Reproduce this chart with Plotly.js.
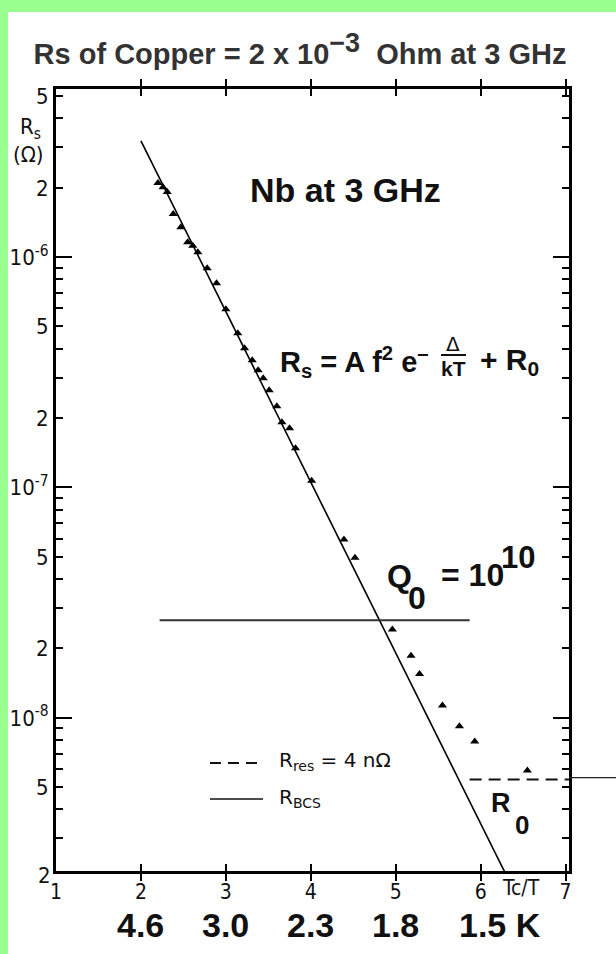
<!DOCTYPE html>
<html>
<head>
<meta charset="utf-8">
<script src="https://cdn.plot.ly/plotly-3.0.1.min.js"></script>
<style>
  html, body { margin: 0; padding: 0; background: #99ff8f; }
  #chart { width: 616px; height: 954px; }
</style>
</head>
<body>
<div id="chart"></div>
<script>
// ---------------- data ----------------
// measured points (x = Tc/T, y = Rs in Ohm)
const measX = [2.20, 2.26, 2.31, 2.38, 2.47, 2.55, 2.61, 2.67, 2.78, 2.89, 3.00, 3.14, 3.22, 3.31, 3.38, 3.44, 3.51, 3.60, 3.66, 3.75, 3.82, 4.01, 4.39, 4.52, 4.96, 5.18, 5.28, 5.55, 5.75, 5.93, 6.55];
const measY = [2.10e-6, 2.01e-6, 1.92e-6, 1.54e-6, 1.35e-6, 1.16e-6, 1.12e-6, 1.05e-6, 8.96e-7, 7.71e-7, 5.94e-7, 4.67e-7, 4.02e-7, 3.57e-7, 3.23e-7, 2.98e-7, 2.64e-7, 2.25e-7, 1.92e-7, 1.81e-7, 1.48e-7, 1.07e-7, 5.94e-8, 4.96e-8, 2.42e-8, 1.86e-8, 1.55e-8, 1.13e-8, 9.2e-9, 7.9e-9, 5.9e-9];

// R_BCS fit line
const bcsX = [2.0, 6.3];
const bcsY = [3.2e-6, 2.08e-9];

// Q0 = 1e10 level
const qX = [2.22, 5.87];
const qY = [2.65e-8, 2.65e-8];

// residual resistance R_res (dashed)
const resX = [5.87, 7.04];
const resY = [5.4e-9, 5.4e-9];
const resExtY = 5.5e-9;

// axes
const xRange = [1, 7.04];
const yRangeLog = [-8.665, -5.270];
const xTickVals = [1, 2, 3, 4, 5, 6, 7];
const xTickText = ['1', '2', '3', '4', '5', '6', '7'];
const tempX = [2, 3, 4, 5, 6];
const tempLabels = ['4.6', '3.0', '2.3', '1.8', '1.5 K'];

// y ticks: every integer multiple inside range, labels at 1, 2, 5
const yTickVals = [], yTickText = [], yDecades = [];
for (let e = -9; e <= -6; e++) {
  for (let m = 1; m <= 9; m++) {
    const v = m * Math.pow(10, e);
    const lv = Math.log10(v);
    if (lv < yRangeLog[0] || lv > yRangeLog[1]) continue;
    yTickVals.push(v);
    if (m === 1) { yTickText.push('10<sup>-' + (-e) + '</sup>'); yDecades.push(v); }
    else if (m === 2 || m === 5) yTickText.push(String(m));
    else yTickText.push('');
  }
}

// ---------------- layout helpers (pixel -> paper, for text placement) ----------------
const M = { l: 56, r: 47, t: 89, b: 83 };
const W = 616, H = 954;
const PW = W - M.l - M.r, PH = H - M.t - M.b;
const PX = p => (p - M.l) / PW;
const PY = p => (H - M.b - p) / PH;

const narrow = 'Liberation Sans Narrow, DejaVu Sans Condensed, Liberation Sans, sans-serif';
const bold = 'Liberation Sans, Arial, sans-serif';
const legendFont = 'DejaVu Sans, sans-serif';

const traces = [
  { x: bcsX, y: bcsY, mode: 'lines', line: { color: '#000', width: 1.6 }, hoverinfo: 'skip' },
  { x: qX, y: qY, mode: 'lines', line: { color: '#333', width: 2 }, hoverinfo: 'skip' },
  { x: resX, y: resY, mode: 'lines', line: { color: '#111', width: 2, dash: '12px,7px' }, hoverinfo: 'skip' },
  { x: measX, y: measY, mode: 'markers', marker: { symbol: 'triangle-up', size: 8, color: '#000' }, hoverinfo: 'skip' },
  { x: [], y: [], yaxis: 'y2', mode: 'markers', hoverinfo: 'skip' }
];

function txt(text, x, y, size, family, opts) {
  return Object.assign({
    text: text, xref: 'paper', yref: 'paper', x: x, y: y,
    xanchor: 'left', yanchor: 'middle', showarrow: false,
    font: { size: size, family: family, color: '#111' }
  }, opts || {});
}

const annotations = [
  txt('R<sub>s</sub>', PX(30), PY(128), 22, narrow, { xanchor: 'center' }),
  txt('(Ω)', PX(28), PY(154), 22, narrow, { xanchor: 'center' }),
  txt('2', PX(53), PY(875), 22, narrow, { xanchor: 'right' }),
  txt('<b>Nb at 3 GHz</b>', PX(345), PY(190), 34, bold, { xanchor: 'center' }),
  // formula
  txt('<b>R<sub>s</sub> = A f<sup>2</sup> e<sup>–</sup></b>', PX(278), PY(362), 29, bold),
  txt('Δ', PX(453), PY(344), 20, legendFont, { xanchor: 'center' }),
  txt('<b>kT</b>', PX(453), PY(368), 21, bold, { xanchor: 'center' }),
  txt('<b>+ R<sub>0</sub></b>', PX(478), PY(362), 30, bold),
  // Q0
  txt('<b>Q</b>', PX(385), PY(576), 32, bold),
  txt('<b>0</b>', PX(406), PY(598), 32, bold),
  txt('<b>= 10</b>', PX(439), PY(575), 32, bold),
  txt('<b>10</b>', PX(499), PY(557), 31, bold),
  // R0
  txt('<b>R</b>', PX(489), PY(803), 27, bold),
  txt('<b>0</b>', PX(513), PY(825), 26, bold),
  // legend
  txt('R<sub>res</sub> = 4 nΩ', PX(277), PY(761), 20, legendFont),
  txt('R<sub>BCS</sub>', PX(277), PY(798), 20, legendFont),
  // Tc/T axis label
  { text: 'Tc/T', xref: 'x', yref: 'paper', x: 6.48, y: PY(888), xanchor: 'center', yanchor: 'middle',
    showarrow: false, font: { size: 21, family: narrow, color: '#111' } }
];
// temperature labels under the x axis
tempX.forEach((xv, i) => {
  const last = i === tempLabels.length - 1;
  annotations.push({
    text: '<b>' + tempLabels[i] + '</b>', xref: 'x', yref: 'paper', x: xv, y: PY(925),
    xanchor: last ? 'left' : 'center', xshift: last ? -24 : 0, yanchor: 'middle', showarrow: false,
    font: { size: 34, family: bold, color: '#111' }
  });
});

const shapes = [
  // white page area on the green background
  { type: 'rect', xref: 'paper', yref: 'paper', x0: PX(8), x1: PX(640), y0: PY(980), y1: PY(12),
    fillcolor: '#ffffff', line: { width: 0 }, layer: 'below' },
  // legend samples
  { type: 'line', xref: 'paper', yref: 'paper', x0: PX(210), x1: PX(263), y0: PY(763), y1: PY(763),
    line: { color: '#111', width: 2, dash: '11px,7px' } },
  { type: 'line', xref: 'paper', yref: 'paper', x0: PX(210), x1: PX(263), y0: PY(799), y1: PY(799),
    line: { color: '#111', width: 1.6 } },
  // fraction bar in the formula
  { type: 'line', xref: 'paper', yref: 'paper', x0: PX(441), x1: PX(466), y0: PY(355), y1: PY(355),
    line: { color: '#111', width: 2 } },
  // residual line continuing beyond the frame
  { type: 'line', xref: 'paper', yref: 'y', x0: 1, x1: PX(640), y0: resExtY, y1: resExtY,
    line: { color: '#222', width: 1.3 } }
];

const layout = {
  width: W, height: H,
  margin: M,
  paper_bgcolor: '#99ff8f',
  plot_bgcolor: '#ffffff',
  showlegend: false,
  title: {
    text: '<b>Rs of Copper = 2 x 10<sup><span style="font-size:27px">−3</span></sup>\u00a0\u00a0Ohm at 3 GHz</b>',
    x: 300 / W, xanchor: 'center', y: 1 - 54 / H, yanchor: 'middle',
    font: { size: 29, family: bold, color: '#333333' }
  },
  xaxis: {
    range: xRange, showgrid: false, zeroline: false,
    showline: true, linewidth: 3, linecolor: '#000', mirror: 'allticks',
    ticks: 'inside', ticklen: 7, tickwidth: 2, tickcolor: '#000',
    tickmode: 'array', tickvals: xTickVals, ticktext: xTickText,
    tickfont: { size: 21, family: narrow, color: '#111' }
  },
  yaxis: {
    type: 'log', range: yRangeLog, showgrid: false, zeroline: false,
    showline: true, linewidth: 3, linecolor: '#000', mirror: 'allticks',
    ticks: 'inside', ticklen: 7, tickwidth: 2, tickcolor: '#000',
    tickmode: 'array', tickvals: yTickVals, ticktext: yTickText,
    tickfont: { size: 22, family: narrow, color: '#111' }
  },
  yaxis2: {
    type: 'log', range: yRangeLog, overlaying: 'y', side: 'left', anchor: 'x',
    showgrid: false, zeroline: false, showline: true, linewidth: 3, linecolor: '#000', mirror: 'allticks',
    ticks: 'inside', ticklen: 16, tickwidth: 2, tickcolor: '#000',
    tickmode: 'array', tickvals: yDecades, showticklabels: false
  },
  annotations: annotations,
  shapes: shapes
};

Plotly.newPlot('chart', traces, layout, { staticPlot: true, displayModeBar: false });
</script>
</body>
</html>
